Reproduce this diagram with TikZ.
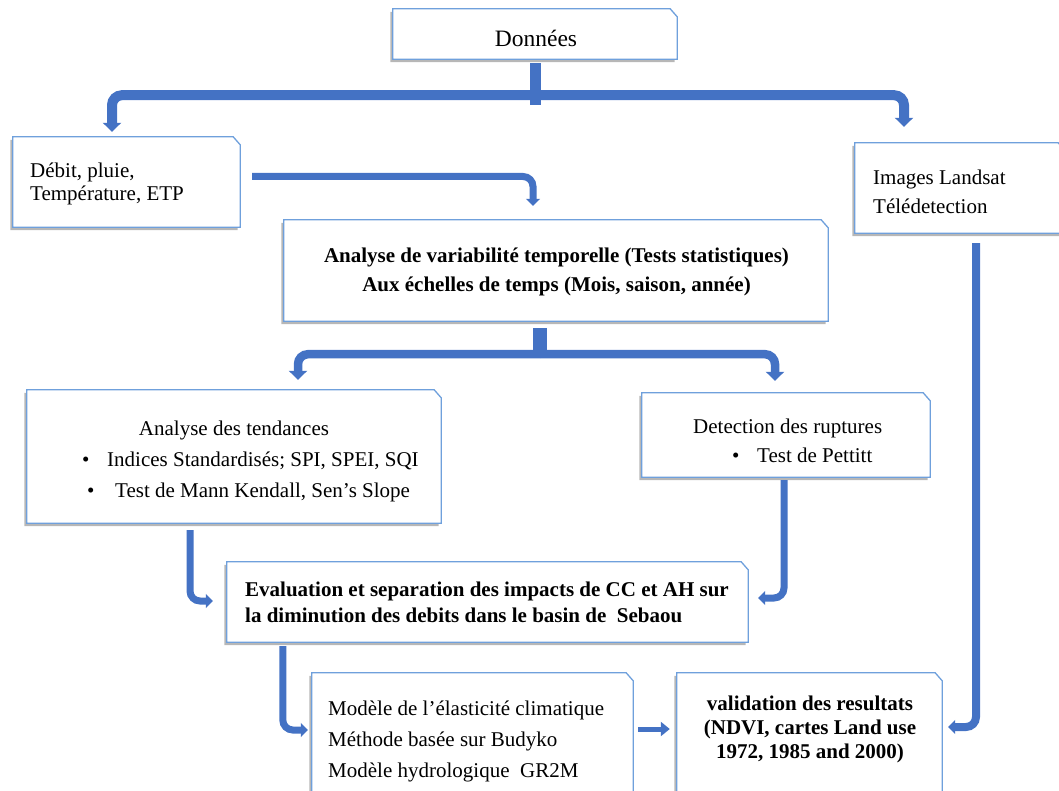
\documentclass[tikz,border=0pt]{standalone}
\usepackage{fontspec}
\setmainfont{Liberation Serif}
\usetikzlibrary{shadows,arrows.meta,calc}
\definecolor{linkblue}{HTML}{4472C4}
\definecolor{edgeblue}{HTML}{6FA0DC}
\begin{document}
\begin{tikzpicture}[x=1pt,y=-1pt,
  box/.style={rectangle, draw=none, inner sep=0pt},
  boxline/.style={draw=edgeblue, line width=1.3pt, fill=white,
    drop shadow={shadow xshift=-2.5pt, shadow yshift=-3pt, opacity=0.4, fill=black!70}},
  conn/.style={draw=linkblue, line width=7pt, rounded corners=10pt},
  thick conn/.style={conn, line width=10pt},
  stub/.style={draw=linkblue},
  arrbig/.style={-{Triangle[width=18pt,length=9pt]}},
  arrsmall/.style={-{Triangle[width=14pt,length=7pt]}},
  txt/.style={font=\fontsize{21}{25}\selectfont, inner sep=0pt, anchor=base west},
  ctxt/.style={txt, anchor=base},
  btxt/.style={txt, font=\fontsize{21}{25}\selectfont\bfseries},
  bctxt/.style={btxt, anchor=base}]
\useasboundingbox (0,0) rectangle (1059,791);

% boxes
\node[box, minimum width=284pt, minimum height=50pt] (b1) at (535,34) {};
\node[box, minimum width=227pt, minimum height=90pt] (b2) at (126.5,182) {};
\node[box, minimum width=210pt, minimum height=90pt] (b3) at (960,188) {};
\node[box, minimum width=544pt, minimum height=101pt] (b4) at (556,270.5) {};
\node[box, minimum width=414pt, minimum height=133pt] (b5) at (234,456.5) {};
\node[box, minimum width=288pt, minimum height=84pt] (b6) at (786,435) {};
\node[box, minimum width=521pt, minimum height=80pt] (b7) at (487.5,602) {};
\node[box, minimum width=321pt, minimum height=132pt] (b8) at (472.5,739) {};
\node[box, minimum width=265pt, minimum height=132pt] (b9) at (809.5,739) {};
\foreach \n in {b1,b2,b3,b4,b5,b6,b7,b8,b9}
  \draw[boxline] (\n.south west) -- (\n.north west) -- ([xshift=-7pt]\n.north east)
     -- ([yshift=-8pt]\n.north east) -- (\n.south east) -- cycle;

% texts
\node[ctxt, font=\fontsize{23.5}{28}\selectfont] (t1) at (536,47) {Données};
\node[txt] (t2a) at (30,178) {Débit, pluie,};
\node[txt] (t2b) at (30,201) {Température, ETP};
\node[txt] (t3a) at (873,185) {Images Landsat};
\node[txt] (t3b) at (873,214) {Télédetection};
\node[bctxt] (t4a) at (556.5,263) {Analyse de variabilité temporelle (Tests statistiques)};
\node[bctxt] (t4b) at (556.5,292) {Aux échelles de temps (Mois, saison, année)};
\node[ctxt] (t5a) at (234,435) {Analyse des tendances};
\node[txt] (t5b) at (82,466) {•};
\node[txt] (t5c) at (107,466) {Indices Standardisés; SPI, SPEI, SQI};
\node[txt] (t5d) at (87,497) {•};
\node[txt] (t5e) at (115,497) {Test de Mann Kendall, Sen’s Slope};
\node[txt] (t6a) at (693,433) {Detection des ruptures};
\node[txt] (t6b) at (732,462) {•};
\node[txt] (t6c) at (757,462) {Test de Pettitt};
\node[btxt] (t7a) at (245,596) {Evaluation et separation des impacts de CC et AH sur};
\node[btxt] (t7b) at (245,622) {la diminution des debits dans le basin de~~Sebaou};
\node[txt] (t8a) at (328,715) {Modèle de l’élasticité climatique};
\node[txt] (t8b) at (328,746) {Méthode basée sur Budyko};
\node[txt] (t8c) at (328,777) {Modèle hydrologique~~GR2M};
\node[bctxt] (t9a) at (810,710) {validation des resultats};
\node[bctxt] (t9b) at (810,734) {(NDVI, cartes Land use};
\node[bctxt] (t9c) at (810,758) {1972, 1985 and 2000)};

% connectors
\draw[stub, line width=11pt] ([yshift=-4pt]b1.south) -- ([yshift=-46pt]b1.south);
\coordinate (j1) at ([yshift=-36pt]b1.south);
\draw[thick conn, arrbig] (j1) -| ([xshift=-14.5pt,yshift=5pt]b2.north);
\draw[thick conn, arrbig] (j1) -| ([xshift=-56pt,yshift=16pt]b3.north);
\draw[conn, arrsmall] ([xshift=12pt,yshift=5.5pt]b2.east) -| ([xshift=-23pt,yshift=14pt]b4.north);
\draw[stub, line width=14pt] ([xshift=-16pt,yshift=-7pt]b4.south) -- ([xshift=-16pt,yshift=-37pt]b4.south);
\coordinate (j2) at ([xshift=-16pt,yshift=-33pt]b4.south);
\draw[conn, line width=8.5pt, arrbig] (j2) -| ([xshift=64pt,yshift=10pt]b5.north);
\draw[conn, line width=8.5pt, arrbig] (j2) -| ([xshift=-11pt,yshift=12pt]b6.north);
\draw[conn, arrsmall] ([xshift=-44pt,yshift=-7pt]b5.south) |- ([xshift=-14pt,yshift=1pt]b7.west);
\draw[conn, arrsmall] ([xshift=-2pt,yshift=-3pt]b6.south) |- ([xshift=10pt,yshift=4pt]b7.east);
\draw[conn, arrsmall] ([xshift=56pt,yshift=-4pt]b7.south west) |- ([xshift=-4pt,yshift=9pt]b8.west);
\draw[conn, line width=5pt, -{Triangle[width=14pt,length=9pt]}] ([xshift=5pt,yshift=10pt]b8.east) -- ([xshift=-7pt,yshift=10pt]b9.west);
\draw[conn, line width=8pt, arrsmall] ([xshift=16pt,yshift=-10pt]b3.south) |- ([xshift=6pt,yshift=12pt]b9.east);
\end{tikzpicture}
\end{document}
